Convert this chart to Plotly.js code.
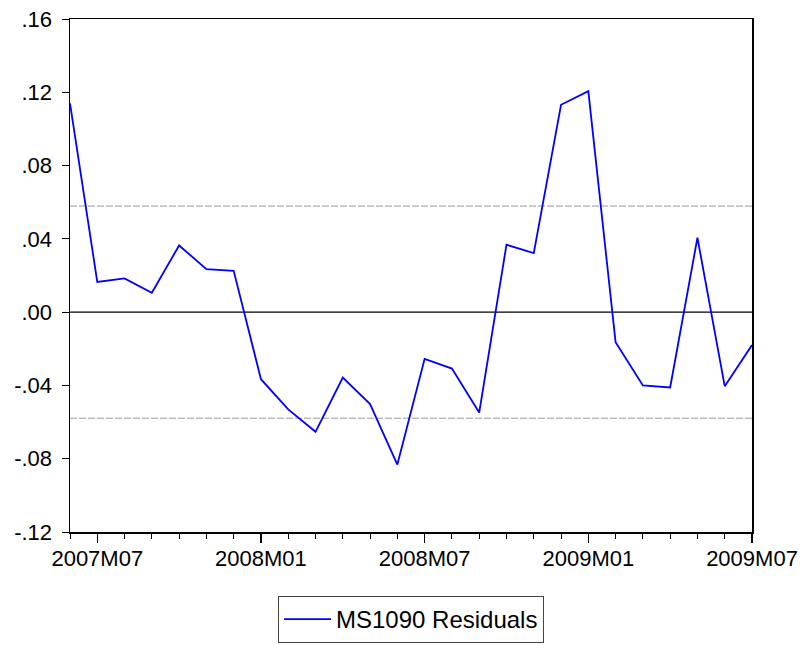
<!DOCTYPE html>
<html>
<head>
<meta charset="utf-8">
<script src="https://cdn.plot.ly/plotly-3.0.1.min.js"></script>
<style>html,body{margin:0;padding:0;background:#fff;}#chart{width:806px;height:645px;}</style>
</head>
<body>
<div id="chart"></div>
<script>
// Monthly observations
const months = ["2007M06","2007M07","2007M08","2007M09","2007M10","2007M11","2007M12",
  "2008M01","2008M02","2008M03","2008M04","2008M05","2008M06","2008M07","2008M08","2008M09","2008M10","2008M11","2008M12",
  "2009M01","2009M02","2009M03","2009M04","2009M05","2009M06","2009M07"];
const residuals = [0.114, 0.0165, 0.0184, 0.0106, 0.0364, 0.0235, 0.0226,
  -0.0366, -0.0531, -0.0653, -0.0357, -0.0502, -0.0832, -0.0255, -0.0308, -0.0548, 0.0368, 0.0322, 0.1132,
  0.1206, -0.0164, -0.0400, -0.0411, 0.0406, -0.0404, -0.0180];
const seriesName = "MS1090 Residuals";
const xTickLabels = ["2007M07","2008M01","2008M07","2009M01","2009M07"];
const yTickVals = [-0.12, -0.08, -0.04, 0.00, 0.04, 0.08, 0.12, 0.16];
const yTickText = ["-.12","-.08","-.04",".00",".04",".08",".12",".16"];
const bandValues = [0.0579, -0.0579];
const yRange = [-0.12, 0.16];

const xIdx = months.map((m, i) => i);
const xTickVals = xTickLabels.map(l => months.indexOf(l));

const font = {family: "Liberation Sans, Arial, sans-serif", size: 22, color: "#000"};
const legendFont = {family: "Liberation Sans, Arial, sans-serif", size: 24, color: "#000"};

const shapes = bandValues.map(v => ({
  type: "line", xref: "paper", x0: 0, x1: 1, yref: "y", y0: v, y1: v,
  line: {color: "#9a9a9a", width: 1, dash: "7px,2px"}, layer: "below"
}));
shapes.push({
  type: "line", xref: "paper", x0: 0, x1: 1, yref: "y", y0: 0, y1: 0,
  line: {color: "#000", width: 1.3}, layer: "below"
});

const data = [{
  x: xIdx, y: residuals, type: "scatter", mode: "lines", name: seriesName,
  line: {color: "#0000ff", width: 1.8}
}];

const layout = {
  width: 806, height: 645,
  margin: {l: 70, r: 54, t: 19, b: 113, autoexpand: false},
  paper_bgcolor: "#fff", plot_bgcolor: "#fff",
  font: font,
  showlegend: true,
  legend: {
    orientation: "h", x: 0.5, xanchor: "center", y: -0.2164, yanchor: "bottom",
    bordercolor: "#444", borderwidth: 1, font: legendFont, itemwidth: 47
  },
  xaxis: {
    type: "linear", range: [0, months.length - 1],
    tickmode: "array", tickvals: xTickVals, ticktext: xTickLabels,
    ticks: "outside", ticklen: 9, tickwidth: 1.2, tickcolor: "#000",
    ticklabelstandoff: -3,
    minor: {dtick: 1, tick0: 0, ticks: "outside", ticklen: 5, tickwidth: 1, tickcolor: "#000", showgrid: false},
    showgrid: false, zeroline: false,
    showline: true, linecolor: "#000", linewidth: 1.5, mirror: true,
    tickfont: font
  },
  yaxis: {
    range: yRange,
    tickmode: "array", tickvals: yTickVals, ticktext: yTickText,
    ticks: "outside", ticklen: 7, tickwidth: 1, tickcolor: "#000",
    ticklabelstandoff: 5,
    showgrid: false, zeroline: false,
    showline: true, linecolor: "#000", linewidth: 1.5, mirror: true,
    tickfont: font
  },
  shapes: shapes
};

Plotly.newPlot("chart", data, layout, {staticPlot: true, displayModeBar: false});
</script>
</body>
</html>
